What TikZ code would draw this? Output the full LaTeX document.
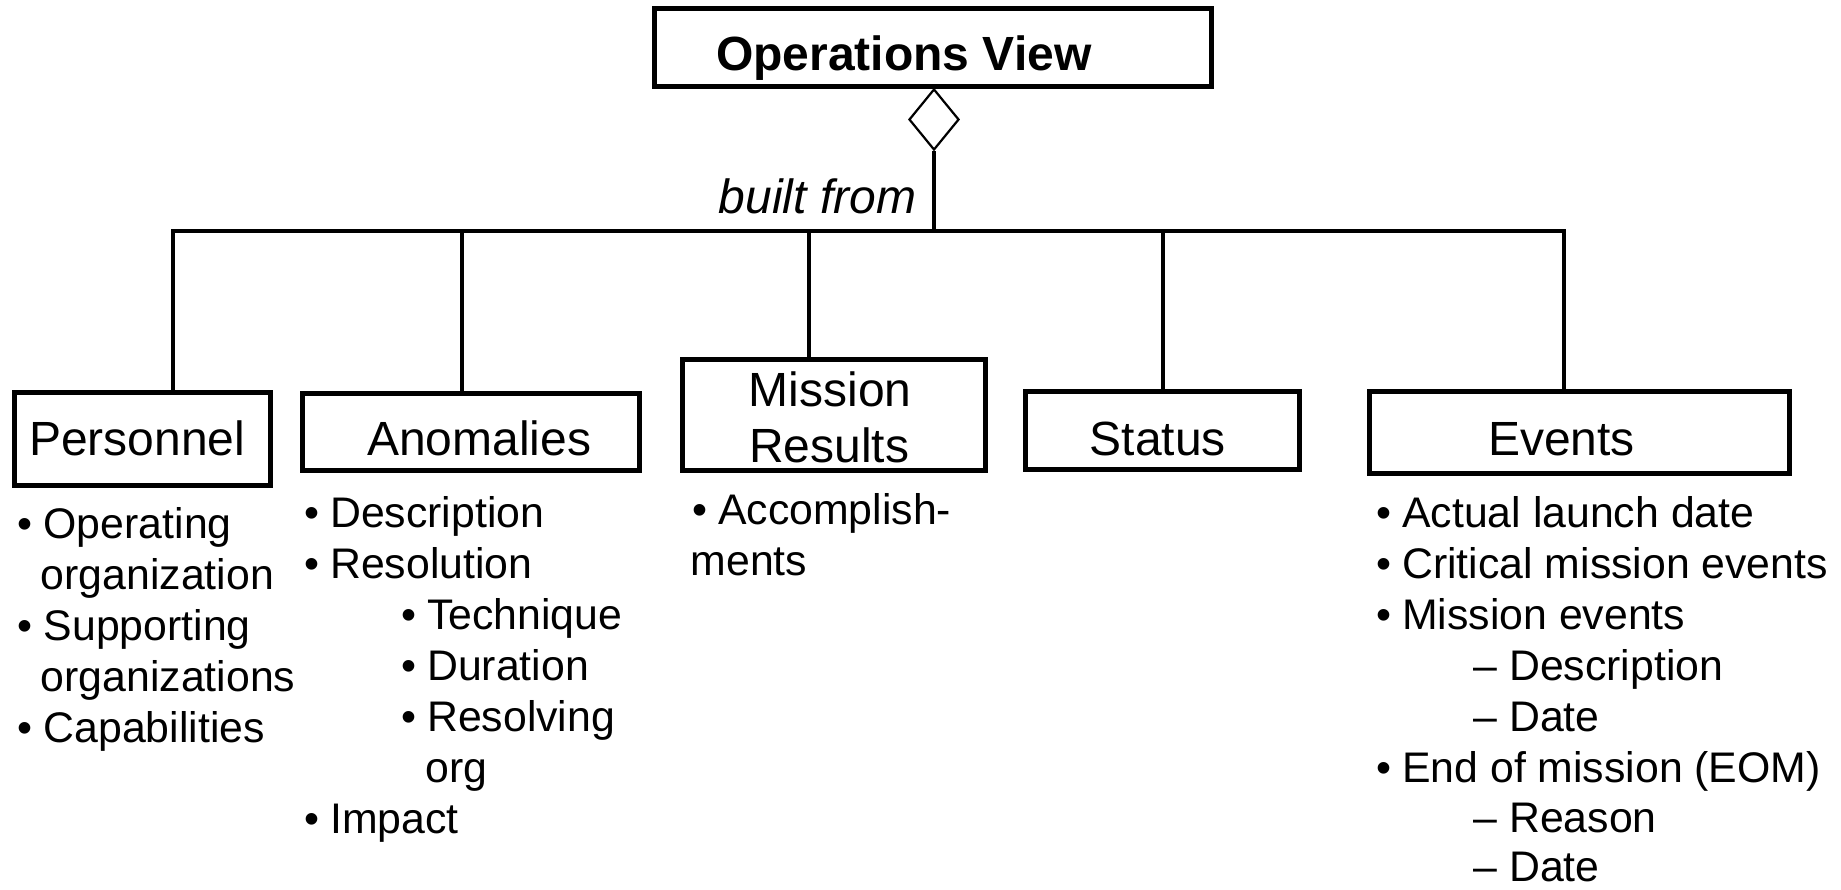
\documentclass[tikz,border=0pt]{standalone}
\usepackage{fontspec}
\setmainfont{Liberation Sans}
\usetikzlibrary{shapes.geometric}

% text sizes (one unit = one point)
\newcommand\headsize{\fontsize{48}{57}\selectfont}
\newcommand\listsize{\fontsize{42.8}{51}\selectfont}
% list markers with a fixed advance
\newcommand\bul{\makebox[26pt][l]{\textbullet}}
\newcommand\dsh{\makebox[36pt][l]{\textendash}}

\begin{document}
\begin{tikzpicture}[x=1pt,y=-1pt,
  box/.style={draw,rectangle,line width=5pt,inner sep=0pt},
  wire/.style={line width=3.5pt,line join=miter},
  agg/.style={draw,diamond,line width=2.2pt,inner sep=0pt,
              minimum width=50pt,minimum height=61pt},
  head/.style={anchor=base west,inner sep=0pt,font=\headsize},
  item/.style={anchor=base west,inner sep=0pt,text depth=0pt,font=\listsize}]
\useasboundingbox (0,0) rectangle (1841,889);

% ---- top class and aggregation diamond
\node[box,minimum width=557pt,minimum height=78pt] (ov) at (933,47.5) {};
\node[head,font=\headsize\bfseries] (ovt) at (716,70) {Operations View};
\node[agg] (dia) at (934,119.5) {};
\node[head,font=\headsize\itshape] (bf) at (718.5,213) {built from};

% ---- part boxes
\node[box,minimum width=256pt,minimum height=93pt] (per) at (142.5,439) {};
\node[box,minimum width=337pt,minimum height=77pt] (ano) at (471,432) {};
\node[box,minimum width=303pt,minimum height=111pt] (mis) at (834,415) {};
\node[box,minimum width=274pt,minimum height=78pt] (sta) at (1162.5,430.5) {};
\node[box,minimum width=420pt,minimum height=82pt] (eve) at (1579.5,432.5) {};

\node[head] (pert) at (29,455) {Personnel};
\node[head] (anot) at (367,455) {Anomalies};
\node[head] (mist1) at (748.5,406) {Mission};
\node[head] (mist2) at (749,462) {Results};
\node[head] (stat) at (1089.5,455) {Status};
\node[head] (evet) at (1488,455) {Events};

% ---- connector tree
\coordinate (t1) at (173,231);
\coordinate (t2) at (462,231);
\coordinate (tm) at (934,231);
\coordinate (t3) at (809,231);
\coordinate (t4) at (1163,231);
\coordinate (t5) at (1564,231);
\draw[wire] (dia.south) -- (tm);
\draw[wire] (t1 |- per.north) -- (t1) -- (t5) -- (t5 |- eve.north);
\draw[wire] (t2) -- (t2 |- ano.north);
\draw[wire] (t3) -- (t3 |- mis.north);
\draw[wire] (t4) -- (t4 |- sta.north);

% ---- Personnel attributes
\node[item] (p1) at (17.5,538) {\bul Operating};
\node[item] (p2) at (40.5,589) {organization};
\node[item] (p3) at (17.5,640) {\bul Supporting};
\node[item] (p4) at (40.5,691) {organizations};
\node[item] (p5) at (17.5,742) {\bul Capabilities};

% ---- Anomalies attributes
\node[item] (a1) at (304,527) {\bul Description};
\node[item] (a2) at (304,578) {\bul Resolution};
\node[item] (a3) at (401,629) {\bul Technique};
\node[item] (a4) at (401,680) {\bul Duration};
\node[item] (a5) at (401,731) {\bul Resolving};
\node[item] (a6) at (425,782) {org};
\node[item] (a7) at (304,833) {\bul Impact};

% ---- Mission Results attributes
\node[item] (m1) at (692,524) {\bul Accomplish-};
\node[item] (m2) at (690.5,575) {ments};

% ---- Events attributes
\node[item] (e1) at (1376,527) {\bul Actual launch date};
\node[item] (e2) at (1376,578) {\bul Critical mission events};
\node[item] (e3) at (1376,629) {\bul Mission events};
\node[item] (e4) at (1473,680) {\dsh Description};
\node[item] (e5) at (1473,731) {\dsh Date};
\node[item] (e6) at (1376,782) {\bul End of mission (EOM)};
\node[item] (e7) at (1473,832) {\dsh Reason};
\node[item] (e8) at (1473,881) {\dsh Date};
\end{tikzpicture}
\end{document}
